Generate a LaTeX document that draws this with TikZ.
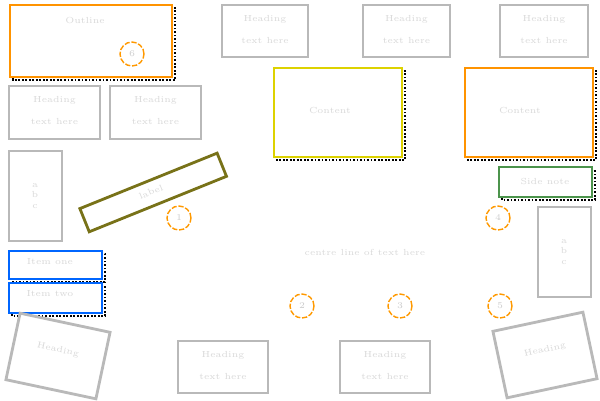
\documentclass[tikz,border=0pt]{standalone}
\usepackage{tikz}
\usetikzlibrary{positioning}
\tikzset{
  box/.style={draw=gray!55, line width=1.6pt, fill=white, minimum width=#1},
  hot/.style={draw=orange!85!yellow, line width=1.6pt, fill=white},
  pale/.style={draw=yellow!70!olive, line width=1.6pt, fill=white},
  grn/.style={draw=green!40!black!70, line width=1.6pt, fill=white},
  blu/.style={draw=blue!60!cyan, line width=1.6pt, fill=white},
  shade/.style={draw=black, line width=1.2pt, dash pattern=on 1pt off 1pt},
  num/.style={circle, draw=orange!80!yellow, dash pattern=on 3pt off 1pt, thick, minimum size=0.48cm, inner sep=0pt, text=gray!40, font=\tiny},
  faint/.style={text=gray!30, font=\tiny}
}
\begin{document}
\begin{tikzpicture}[x=0.02cm, y=-0.02cm]
\useasboundingbox (0,0) rectangle (600,400);
% framed boxes with shadows
\draw[shade] (13,8) rectangle (175,80);
\draw[hot] (10,5) rectangle (172,77);
\node[faint] (ta) at (85,20) {Outline};
\node[num] (n6) at (132,54) {6};
\draw[shade] (277,71) rectangle (405,160);
\draw[pale] (274,68) rectangle (402,157);
\node[faint] (tb) at (330,110) {Content};
\draw[shade] (468,71) rectangle (596,160);
\draw[hot] (465,68) rectangle (593,157);
\node[faint] (tc) at (520,110) {Content};
\draw[shade] (502,170) rectangle (595,200);
\draw[grn] (499,167) rectangle (592,197);
\node[faint] (td) at (545,181) {Side note};
\draw[shade] (12,254) rectangle (105,282);
\draw[blu] (9,251) rectangle (102,279);
\node[faint] (te) at (50,262) {Item one};
\draw[shade] (12,286) rectangle (105,316);
\draw[blu] (9,283) rectangle (102,313);
\node[faint] (tf) at (50,294) {Item two};
% plain gray boxes
\foreach \x/\y/\w/\h in {222/5/86/52, 363/5/87/52, 500/5/88/52, 9/86/91/53, 110/86/91/53, 178/341/90/52, 340/341/90/52}
{
  \draw[box=0pt] (\x,\y) rectangle ++(\w,\h);
  \node[faint] at (\x+\w/2,\y+14) {Heading};
  \node[faint] at (\x+\w/2,\y+35) {text here};
}
\draw[box=0pt] (9,151) rectangle (62,241);
\node[faint, align=center] (tg) at (35,196) {a\\b\\c};
\draw[box=0pt] (538,207) rectangle (591,297);
\node[faint, align=center] (th) at (564,252) {a\\b\\c};
% tilted boxes
\draw[grn, draw=olive!80!black] (153,192) ++(-22:-74) ++(-112:12) -- ++(-22:148) -- ++(68:25) -- ++(-22:-148) -- cycle;
\node[faint, rotate=22] (ti) at (151,192) {label};
\draw[box=0pt, rotate around={-12:(58,356)}] (12,322) rectangle (104,390);
\node[faint, rotate=-12] (tj) at (58,350) {Heading};
\draw[box=0pt, rotate around={12:(545,355)}] (499,321) rectangle (591,389);
\node[faint, rotate=12] (tk) at (545,350) {Heading};
% numbered circles
\node[num] (n1) at (179,218) {1};
\node[num] (n4) at (498,218) {4};
\node[num] (n2) at (302,306) {2};
\node[num] (n3) at (400,306) {3};
\node[num] (n5) at (500,306) {5};
\node[faint] (mid) at (365,252) {centre line of text here};
\end{tikzpicture}
\end{document}
